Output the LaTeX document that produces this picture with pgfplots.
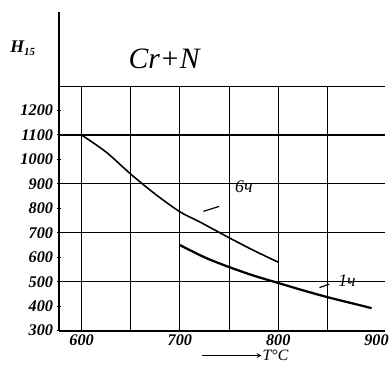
\documentclass[border=0pt]{standalone}
\usepackage{fontspec}
\setmainfont{Liberation Serif}
\usepackage{pgfplots}
\pgfplotsset{compat=1.18}
\begin{document}
\begin{tikzpicture}
\begin{axis}[
  scale only axis, width=322pt, height=248pt,
  xmin=577, xmax=900, ymin=300, ymax=1300,
  axis x line=bottom, axis y line=left,
  axis line style={line width=2pt, -},
  xtick={600,700,800,900},
  ytick={300,400,...,1200},
  x tick style={draw=none},
  y tick style={black, line width=1pt},
  major tick length=5pt,
  extra x ticks={600,650,700,750,800,850},
  extra x tick labels={},
  extra x tick style={grid=major, tick style={draw=none}},
  extra y ticks={500,700,900,1100,1300},
  extra y tick labels={},
  extra y tick style={grid=major, tick style={draw=none}},
  grid style={black, line width=1.1pt},
  clip=false,
  tick label style={font=\fontsize{16.5}{18}\selectfont\bfseries\itshape},
  xticklabel style={yshift=2pt},
  /pgf/number format/assume math mode=true,
  /pgf/number format/1000 sep={},
]
\path (axis cs:517,162) rectangle (axis cs:909,1652);
% extended lines
\draw[line width=1.1pt] (axis cs:900,1300) -- (axis cs:909,1300);
\draw[line width=1.1pt] (axis cs:900,1100) -- (axis cs:909,1100);
\draw[line width=1.1pt] (axis cs:900,900) -- (axis cs:909,900);
\draw[line width=1.1pt] (axis cs:900,700) -- (axis cs:909,700);
\draw[line width=1.1pt] (axis cs:900,500) -- (axis cs:909,500);
\draw[line width=2pt] (axis cs:900,300) -- (axis cs:909,300);
\draw[line width=2.2pt] (axis cs:577,1290) -- (axis cs:577,1604);
% curves
\addplot[black, line width=1.6pt, smooth] coordinates {
 (600,1100) (625,1030) (650,940) (675,858) (700,786) (720,745) (750,680) (775,628) (800,580)};
\addplot[black, line width=2.3pt, smooth] coordinates {
 (700,650) (725,600) (750,560) (775,525) (800,495) (825,465) (850,437) (875,412) (895,392)};
% labels
\node[font=\fontsize{30}{32}\selectfont\itshape] at (axis cs:684,1412) {Cr+N};
\node[font=\fontsize{18}{20}\selectfont\bfseries\itshape] at (axis cs:540,1456) {H\raisebox{-0.4ex}{\fontsize{11}{12}\selectfont 15}};
\draw[line width=1.2pt] (axis cs:724,788) -- (axis cs:740,808);
\node[font=\fontsize{18}{20}\selectfont\itshape] at (axis cs:765,890) {6ч};
\draw[line width=1.2pt] (axis cs:842,476) -- (axis cs:852,490);
\node[font=\fontsize{18}{20}\selectfont\itshape] at (axis cs:870,504) {1ч};
\draw[line width=1.2pt, -stealth] (axis cs:722,198) -- (axis cs:783,198);
\node[font=\fontsize{16}{18}\selectfont\itshape, anchor=west, inner sep=1pt] at (axis cs:783,198) {T°C};
\end{axis}
\end{tikzpicture}
\end{document}
